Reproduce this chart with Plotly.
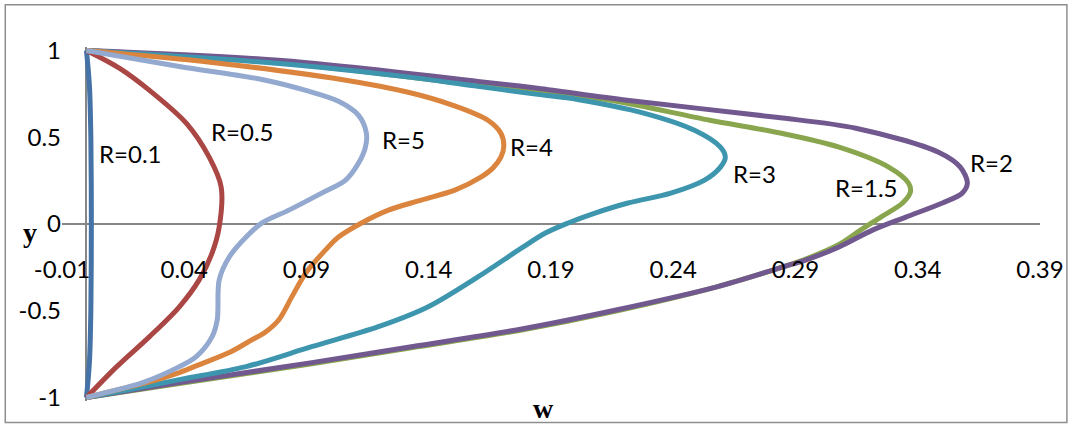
import plotly.graph_objects as go

# Velocity profiles w(y) for several values of R
series_names = ["R=0.1", "R=0.5", "R=1.5", "R=2", "R=3", "R=4", "R=5"]

w_r01 = [0, 0.0012, 0.0018, 0.0020, 0.0018, 0.0012, 0]
y_r01 = [1, 0.8, 0.5, 0.0, -0.5, -0.8, -1]

w_r05 = [0, 0.0136, 0.0258, 0.0409, 0.0502, 0.0551, 0.0543,
         0.0514, 0.0461, 0.0380, 0.0258, 0.0124, 0]
y_r05 = [1, 0.897, 0.770, 0.580, 0.385, 0.213, -0.017,
         -0.167, -0.322, -0.477, -0.649, -0.822, -1]

w_r15 = [0, 0.0787, 0.1601, 0.1845, 0.2142, 0.2549, 0.2821, 0.3078, 0.3281,
         0.3362, 0.3370, 0.3338, 0.3249, 0.3167, 0.3078, 0.2944,
         0.2850, 0.2578, 0.2171, 0.1764, 0.1329, 0.0922, 0.0380, 0]
y_r15 = [1, 0.931, 0.799, 0.759, 0.713, 0.598, 0.529, 0.443, 0.328,
         0.236, 0.184, 0.121, 0.040, -0.034, -0.118, -0.201,
         -0.247, -0.362, -0.500, -0.615, -0.713, -0.805, -0.920, -1]

w_r2 = [0, 0.0787, 0.1601, 0.1845, 0.2211, 0.2821, 0.3147, 0.3485, 0.3574,
        0.3603, 0.3582, 0.3501, 0.3351, 0.3217, 0.3078, 0.2944,
        0.2850, 0.2578, 0.2171, 0.1764, 0.1329, 0.0922, 0.0380, 0]
y_r2 = [1, 0.943, 0.822, 0.782, 0.713, 0.615, 0.552, 0.414, 0.328,
        0.236, 0.178, 0.121, 0.040, -0.034, -0.132, -0.207,
        -0.247, -0.362, -0.494, -0.609, -0.707, -0.799, -0.914, -1]

w_r3 = [0, 0.0787, 0.1328, 0.1601, 0.1845, 0.2008, 0.2283, 0.2487, 0.2593,
        0.2613, 0.2593, 0.2528, 0.2390, 0.2215, 0.2080, 0.1970, 0.1877,
        0.1780, 0.1601, 0.1398, 0.1194, 0.0921, 0.0653, 0.0380, 0.0177, 0]
y_r3 = [1, 0.925, 0.845, 0.793, 0.747, 0.718, 0.638, 0.540, 0.443,
        0.385, 0.328, 0.253, 0.178, 0.121, 0.063, 0.006, -0.052,
        -0.138, -0.305, -0.477, -0.592, -0.707, -0.822, -0.897, -0.954, -1]

w_r4 = [0, 0.0514, 0.1043, 0.1316, 0.1499, 0.1642, 0.1695, 0.1707, 0.1695,
        0.1662, 0.1613, 0.1507, 0.1369, 0.1235, 0.1125, 0.1031, 0.0978,
        0.0897, 0.0840, 0.0787, 0.0734, 0.0677, 0.0584, 0.0462, 0.0380,
        0.0230, 0.0095, 0]
y_r4 = [1, 0.931, 0.833, 0.759, 0.684, 0.598, 0.523, 0.448, 0.385,
        0.322, 0.270, 0.195, 0.138, 0.080, 0.006, -0.075, -0.149,
        -0.282, -0.420, -0.552, -0.621, -0.667, -0.741, -0.810, -0.856,
        -0.920, -0.966, -1]

w_r5 = [0, 0.0380, 0.0718, 0.0897, 0.1031, 0.1113, 0.1145, 0.1141, 0.1113,
        0.1060, 0.0962, 0.0828, 0.0718, 0.0653, 0.0584, 0.0543, 0.0535,
        0.0514, 0.0449, 0.0380, 0.0230, 0.0095, 0]
y_r5 = [1, 0.908, 0.833, 0.770, 0.707, 0.626, 0.523, 0.443, 0.351,
        0.253, 0.178, 0.080, 0.006, -0.075, -0.190, -0.322, -0.552,
        -0.649, -0.764, -0.822, -0.914, -0.966, -1]

x_tick_vals = [-0.01, 0.04, 0.09, 0.14, 0.19, 0.24, 0.29, 0.34, 0.39]
x_tick_text = ["-0.01", "0.04", "0.09", "0.14", "0.19", "0.24", "0.29", "0.34", "0.39"]
y_tick_vals = [-1, -0.5, 0, 0.5, 1]
y_tick_text = ["-1", "-0.5", "0", "0.5", "1"]

series_w = [w_r01, w_r05, w_r15, w_r2, w_r3, w_r4, w_r5]
series_y = [y_r01, y_r05, y_r15, y_r2, y_r3, y_r4, y_r5]
colors = ["#4572A7", "#AA4643", "#89A54E", "#71588F", "#3D96AE", "#DB843D", "#93A9CF"]

# where each curve's label text starts (data units)
label_pos = {
    "R=0.1": (0.0042, 0.405),
    "R=0.5": (0.0502, 0.534),
    "R=5": (0.1202, 0.486),
    "R=4": (0.1723, 0.445),
    "R=3": (0.2638, 0.290),
    "R=1.5": (0.3053, 0.213),
    "R=2": (0.3607, 0.356),
}

FONT = "Lato, 'Open Sans', sans-serif"
SERIF = "'Liberation Serif', 'Times New Roman', serif"

fig = go.Figure()
for name, w, y, c in zip(series_names, series_w, series_y, colors):
    fig.add_trace(go.Scatter(
        x=w, y=y, mode="lines", name=name,
        line=dict(color=c, width=5, shape="spline", smoothing=0.9),
        hoverinfo="skip",
    ))

annotations = []
for name, (ax, ay) in label_pos.items():
    annotations.append(dict(
        x=ax, y=ay, xref="x", yref="y", text=name, showarrow=False,
        xanchor="left", yanchor="middle",
        font=dict(family=FONT, size=24, color="#000000"),
    ))
annotations.append(dict(
    x=-0.0326, y=0.475, xref="paper", yref="paper", text="<b>y</b>",
    showarrow=False, xanchor="center", yanchor="middle",
    font=dict(family=SERIF, size=28, color="#000000"),
))
annotations.append(dict(
    x=0.492, y=-0.021, xref="paper", yref="paper", text="<b>w</b>",
    showarrow=False, xanchor="center", yanchor="middle",
    font=dict(family=SERIF, size=28, color="#000000"),
))

fig.update_layout(
    width=1076, height=425,
    margin=dict(l=62, r=31, t=46.5, b=23.5),
    paper_bgcolor="white", plot_bgcolor="white",
    showlegend=False,
    font=dict(family=FONT, size=24, color="#000000"),
    xaxis=dict(
        range=[-0.01, 0.39],
        tickmode="array", tickvals=x_tick_vals, ticktext=x_tick_text,
        showgrid=False, showline=False, ticks="",
        zeroline=True, zerolinecolor="#868686", zerolinewidth=2,
        anchor="free", position=0.418,
        tickfont=dict(family=FONT, size=24, color="#000000"),
    ),
    yaxis=dict(
        range=[-1.02, 1.02],
        tickmode="array", tickvals=y_tick_vals, ticktext=y_tick_text,
        showgrid=False, showline=False, ticks="",
        zeroline=True, zerolinecolor="#868686", zerolinewidth=2,
        ticklabelstandoff=0,
        tickfont=dict(family=FONT, size=24, color="#000000"),
    ),
    annotations=annotations,
    shapes=[dict(
        type="rect", xref="paper", yref="paper",
        x0=-0.058, x1=1.0275, y0=-0.0606, y1=1.1197,
        line=dict(color="#8E8E8E", width=1.5), fillcolor="rgba(0,0,0,0)",
        layer="below",
    )],
)

fig.write_html("out.html")
